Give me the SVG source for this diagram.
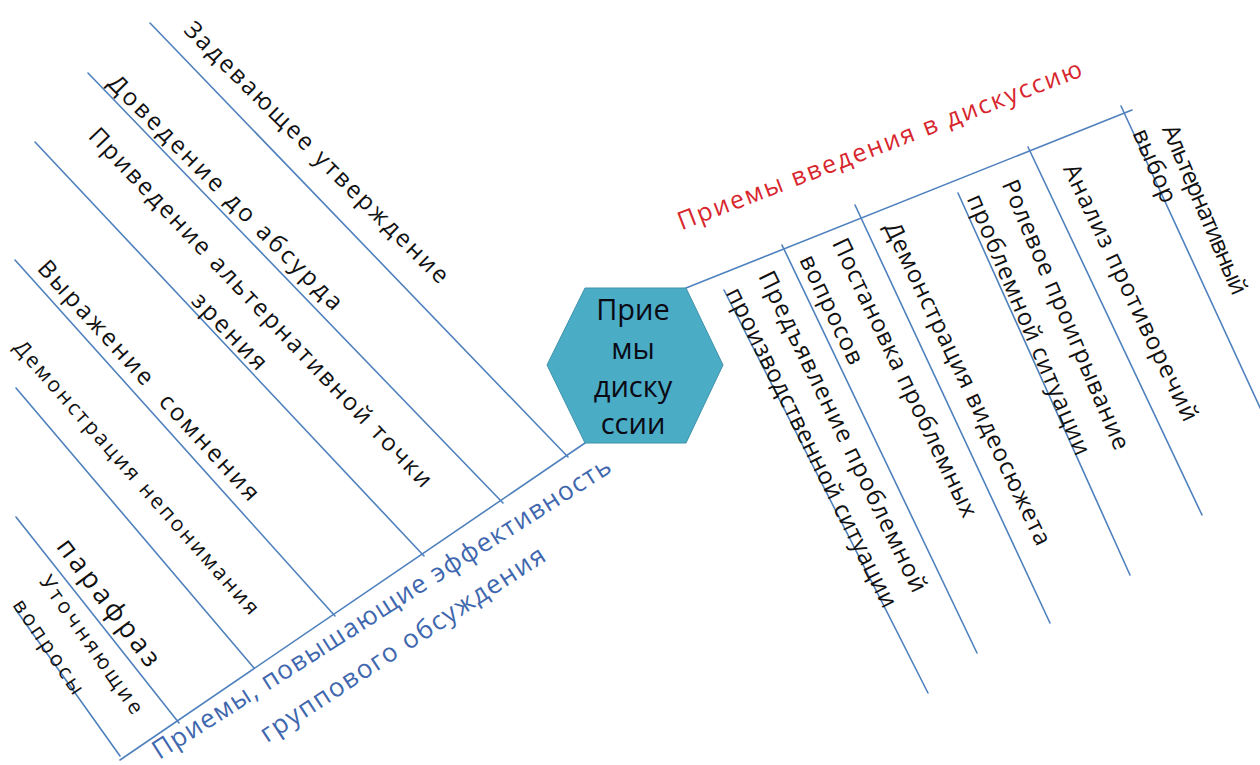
<svg xmlns="http://www.w3.org/2000/svg" width="1260" height="765" viewBox="0 0 1260 765">
<style>
.ln{stroke:#4F81BD;stroke-width:1.6;fill:none;stroke-linecap:round}
.lb{font-family:"Open Sans","Noto Sans",sans-serif;font-size:24px;fill:#111;text-anchor:middle}
.sm{font-size:21px}
.big{font-size:27px}
.red{font-family:"Open Sans","Noto Sans",sans-serif;font-size:25px;fill:#D8262E;text-anchor:middle}
.blue{font-family:"Open Sans","Noto Sans",sans-serif;font-size:26px;fill:#3F67AE;text-anchor:middle}
.hx{font-family:"Open Sans","Noto Sans",sans-serif;font-size:29px;fill:#0a0a14;text-anchor:middle}
</style>
<rect width="1260" height="765" fill="#fff"/>
<g id="connectors">
<line class="ln" x1="686" y1="288" x2="1132" y2="110"/>
<line class="ln" x1="724" y1="290" x2="928" y2="693"/>
<line class="ln" x1="782" y1="245" x2="977" y2="653"/>
<line class="ln" x1="855" y1="205" x2="1050" y2="623"/>
<line class="ln" x1="958" y1="193" x2="1130" y2="575"/>
<line class="ln" x1="1028" y1="147" x2="1202" y2="515"/>
<line class="ln" x1="1121" y1="106" x2="1262" y2="412"/>
<line class="ln" x1="585" y1="443" x2="120" y2="760"/>
<line class="ln" x1="150" y1="23" x2="568" y2="457"/>
<line class="ln" x1="88" y1="73" x2="503" y2="503"/>
<line class="ln" x1="35" y1="142" x2="424" y2="556"/>
<line class="ln" x1="15" y1="260" x2="335" y2="616"/>
<line class="ln" x1="16" y1="388" x2="254" y2="668"/>
<line class="ln" x1="16" y1="517" x2="179" y2="723"/>
<line class="ln" x1="16" y1="610" x2="120" y2="756"/>
</g>
<g id="center">
<polygon points="547,365 585,288 686,288 723,365 686,443 585,443" fill="#4BACC6" stroke="#3E93AA" stroke-width="1"/>
<text class="hx" x="633" y="320">Прие</text>
<text class="hx" x="633" y="359">мы</text>
<text class="hx" x="633" y="397">диску</text>
<text class="hx" x="633" y="434">ссии</text>
</g>
<g id="title-intro">
<text class="red" transform="translate(880,146) rotate(-21)" dy="0.3em" textLength="431" lengthAdjust="spacing">Приемы введения в дискуссию</text>
</g>
<g id="title-group">
<text class="blue" transform="translate(382,609) rotate(-32.5)" dy="0.3em" textLength="538" lengthAdjust="spacing">Приемы, повышающие эффективность</text>
<text class="blue" transform="translate(403,645) rotate(-33.2)" dy="0.3em" textLength="335" lengthAdjust="spacing">группового обсуждения</text>
</g>
<g id="u1">
<text class="lb" transform="translate(842,432) rotate(64)" dy="0.3em" textLength="354" lengthAdjust="spacing">Предъявление проблемной</text>
<text class="lb" transform="translate(811,448) rotate(63.5)" dy="0.3em" textLength="354" lengthAdjust="spacing">производственной ситуации</text>
</g>
<g id="u2">
<text class="lb" transform="translate(904,378) rotate(64.5)" dy="0.3em" textLength="306" lengthAdjust="spacing">Постановка проблемных</text>
<text class="lb" transform="translate(831,310) rotate(64.5)" dy="0.3em" textLength="118" lengthAdjust="spacing">вопросов</text>
</g>
<g id="u3">
<text class="lb" transform="translate(967,384) rotate(64.4)" dy="0.3em" textLength="355" lengthAdjust="spacing">Демонстрация видеосюжета</text>
</g>
<g id="u4">
<text class="lb" transform="translate(1065,315) rotate(67)" dy="0.3em" textLength="291" lengthAdjust="spacing">Ролевое проигрывание</text>
<text class="lb" transform="translate(1028,325) rotate(67)" dy="0.3em" textLength="281" lengthAdjust="spacing">проблемной ситуации</text>
</g>
<g id="u5">
<text class="lb" transform="translate(1130,293) rotate(64.5)" dy="0.3em" textLength="282" lengthAdjust="spacing">Анализ противоречий</text>
</g>
<g id="u6">
<text class="lb" transform="translate(1204,210) rotate(67)" dy="0.3em" textLength="182" lengthAdjust="spacing">Альтернативный</text>
<text class="lb" transform="translate(1154,166) rotate(67)" dy="0.3em" textLength="78" lengthAdjust="spacing">выбор</text>
</g>
<g id="l1">
<text class="lb" transform="translate(316,153) rotate(44.7)" dy="0.3em" textLength="361" lengthAdjust="spacing">Задевающее утверждение</text>
</g>
<g id="l2">
<text class="lb" transform="translate(225,193) rotate(45.1)" dy="0.3em" textLength="321" lengthAdjust="spacing">Доведение до абсурда</text>
</g>
<g id="l3">
<text class="lb" transform="translate(260,308) rotate(46.4)" dy="0.3em" textLength="486" lengthAdjust="spacing">Приведение альтернативной точки</text>
<text class="lb" transform="translate(229,332) rotate(46)" dy="0.3em" textLength="97" lengthAdjust="spacing">зрения</text>
</g>
<g id="l4">
<text class="lb" transform="translate(148,381) rotate(47.6)" dy="0.3em" textLength="316" lengthAdjust="spacing" xml:space="preserve">Выражение  сомнения</text>
</g>
<g id="l5">
<text class="lb sm" transform="translate(136,478) rotate(48.5)" dy="0.3em" textLength="358" lengthAdjust="spacing">Демонстрация непонимания</text>
</g>
<g id="l6">
<text class="lb big" transform="translate(108,603) rotate(53)" dy="0.3em" textLength="153" lengthAdjust="spacing">парафраз</text>
</g>
<g id="l7">
<text class="lb sm" transform="translate(91,645) rotate(55)" dy="0.3em" textLength="164" lengthAdjust="spacing">Уточняющие</text>
<text class="lb sm" transform="translate(48,647) rotate(56)" dy="0.3em" textLength="110" lengthAdjust="spacing">вопросы</text>
</g>
</svg>
